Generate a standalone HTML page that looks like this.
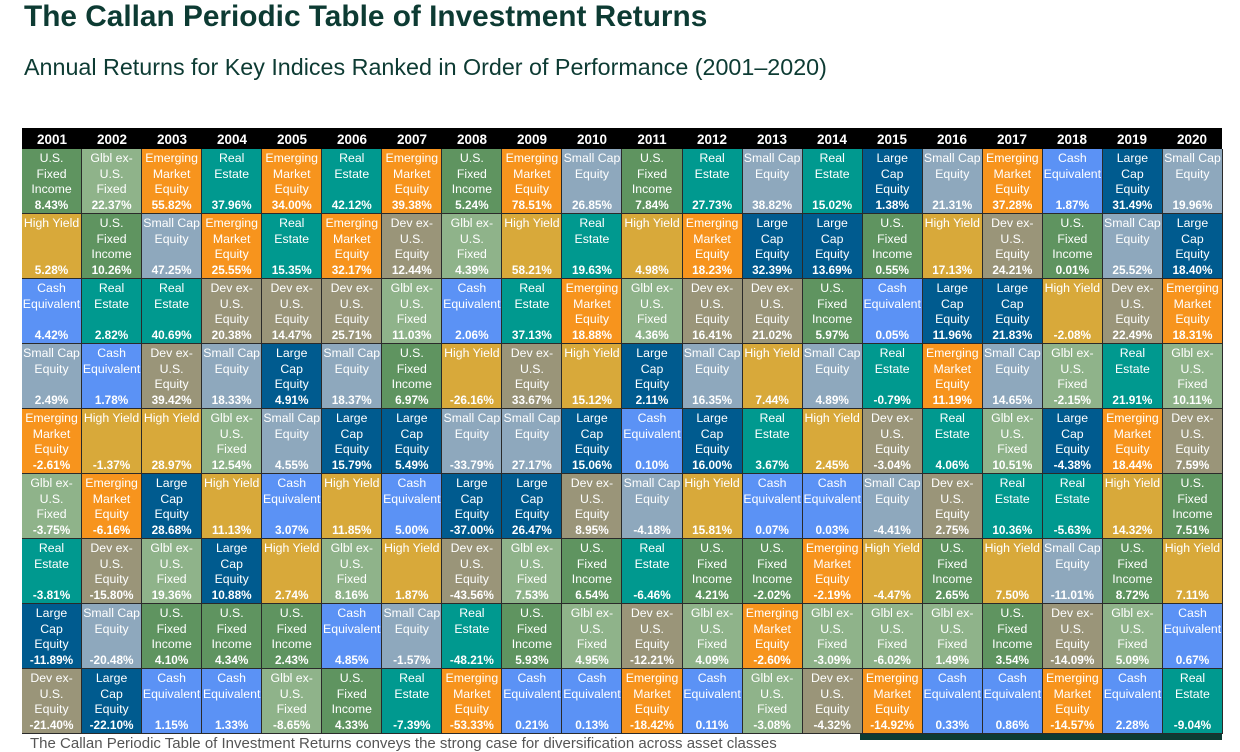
<!DOCTYPE html>
<html><head><meta charset="utf-8"><style>
body{margin:0;width:1240px;height:740px;overflow:hidden;background:#fff;font-family:"Liberation Sans",Arial,sans-serif;position:relative}
h1{position:absolute;left:24px;top:0;margin:0;font-size:29.8px;font-weight:bold;color:#0d3b33;line-height:34px;white-space:nowrap}
h2{position:absolute;left:24px;top:52px;margin:0;font-size:23.3px;font-weight:normal;color:#0d3b33;line-height:30px;white-space:nowrap}
.hd{position:absolute;left:22px;top:128px;width:1200px;height:21px;background:#000;display:grid;grid-template-columns:repeat(20,1fr)}
.hd div{color:#fff;font-weight:bold;font-size:13.5px;text-align:center;line-height:23px}
.g{position:absolute;left:22px;top:149px;width:1201px;height:585px;background:#2a2a2a;display:grid;grid-template-columns:repeat(20,1fr);grid-template-rows:repeat(9,1fr);grid-auto-flow:column;gap:1px;padding:0 1px 1px 0;box-sizing:border-box}
.g div{position:relative;color:#fff;text-align:center;overflow:hidden}
.g i{display:block;font-style:normal;font-size:12.3px;line-height:15.5px;padding-top:2px;white-space:nowrap}
.g b{position:absolute;left:0;right:0;bottom:1px;font-size:11.8px;line-height:14px}
.F{background:#5f9460}.G{background:#8fb38a}.E{background:#f7941d}.R{background:#00998f}.L{background:#005b8f}.S{background:#8ea8bd}.D{background:#9a9579}.C{background:#5b92f5}.H{background:#d8a93a}
.ft{position:absolute;left:30px;top:735px;font-size:15px;color:#555;white-space:nowrap}
.bar{position:absolute;left:860px;top:734px;width:362px;height:6px;background:#0d3b33}
</style></head><body>
<h1>The Callan Periodic Table of Investment Returns</h1>
<h2>Annual Returns for Key Indices Ranked in Order of Performance (2001–2020)</h2>
<div class="hd"><div>2001</div><div>2002</div><div>2003</div><div>2004</div><div>2005</div><div>2006</div><div>2007</div><div>2008</div><div>2009</div><div>2010</div><div>2011</div><div>2012</div><div>2013</div><div>2014</div><div>2015</div><div>2016</div><div>2017</div><div>2018</div><div>2019</div><div>2020</div></div>
<div class="g">
<div class="F"><i>U.S.<br>Fixed<br>Income</i><b>8.43%</b></div>
<div class="H"><i>High Yield</i><b>5.28%</b></div>
<div class="C"><i>Cash<br>Equivalent</i><b>4.42%</b></div>
<div class="S"><i>Small Cap<br>Equity</i><b>2.49%</b></div>
<div class="E"><i>Emerging<br>Market<br>Equity</i><b>-2.61%</b></div>
<div class="G"><i>Glbl ex-<br>U.S.<br>Fixed</i><b>-3.75%</b></div>
<div class="R"><i>Real<br>Estate</i><b>-3.81%</b></div>
<div class="L"><i>Large<br>Cap<br>Equity</i><b>-11.89%</b></div>
<div class="D"><i>Dev ex-<br>U.S.<br>Equity</i><b>-21.40%</b></div>
<div class="G"><i>Glbl ex-<br>U.S.<br>Fixed</i><b>22.37%</b></div>
<div class="F"><i>U.S.<br>Fixed<br>Income</i><b>10.26%</b></div>
<div class="R"><i>Real<br>Estate</i><b>2.82%</b></div>
<div class="C"><i>Cash<br>Equivalent</i><b>1.78%</b></div>
<div class="H"><i>High Yield</i><b>-1.37%</b></div>
<div class="E"><i>Emerging<br>Market<br>Equity</i><b>-6.16%</b></div>
<div class="D"><i>Dev ex-<br>U.S.<br>Equity</i><b>-15.80%</b></div>
<div class="S"><i>Small Cap<br>Equity</i><b>-20.48%</b></div>
<div class="L"><i>Large<br>Cap<br>Equity</i><b>-22.10%</b></div>
<div class="E"><i>Emerging<br>Market<br>Equity</i><b>55.82%</b></div>
<div class="S"><i>Small Cap<br>Equity</i><b>47.25%</b></div>
<div class="R"><i>Real<br>Estate</i><b>40.69%</b></div>
<div class="D"><i>Dev ex-<br>U.S.<br>Equity</i><b>39.42%</b></div>
<div class="H"><i>High Yield</i><b>28.97%</b></div>
<div class="L"><i>Large<br>Cap<br>Equity</i><b>28.68%</b></div>
<div class="G"><i>Glbl ex-<br>U.S.<br>Fixed</i><b>19.36%</b></div>
<div class="F"><i>U.S.<br>Fixed<br>Income</i><b>4.10%</b></div>
<div class="C"><i>Cash<br>Equivalent</i><b>1.15%</b></div>
<div class="R"><i>Real<br>Estate</i><b>37.96%</b></div>
<div class="E"><i>Emerging<br>Market<br>Equity</i><b>25.55%</b></div>
<div class="D"><i>Dev ex-<br>U.S.<br>Equity</i><b>20.38%</b></div>
<div class="S"><i>Small Cap<br>Equity</i><b>18.33%</b></div>
<div class="G"><i>Glbl ex-<br>U.S.<br>Fixed</i><b>12.54%</b></div>
<div class="H"><i>High Yield</i><b>11.13%</b></div>
<div class="L"><i>Large<br>Cap<br>Equity</i><b>10.88%</b></div>
<div class="F"><i>U.S.<br>Fixed<br>Income</i><b>4.34%</b></div>
<div class="C"><i>Cash<br>Equivalent</i><b>1.33%</b></div>
<div class="E"><i>Emerging<br>Market<br>Equity</i><b>34.00%</b></div>
<div class="R"><i>Real<br>Estate</i><b>15.35%</b></div>
<div class="D"><i>Dev ex-<br>U.S.<br>Equity</i><b>14.47%</b></div>
<div class="L"><i>Large<br>Cap<br>Equity</i><b>4.91%</b></div>
<div class="S"><i>Small Cap<br>Equity</i><b>4.55%</b></div>
<div class="C"><i>Cash<br>Equivalent</i><b>3.07%</b></div>
<div class="H"><i>High Yield</i><b>2.74%</b></div>
<div class="F"><i>U.S.<br>Fixed<br>Income</i><b>2.43%</b></div>
<div class="G"><i>Glbl ex-<br>U.S.<br>Fixed</i><b>-8.65%</b></div>
<div class="R"><i>Real<br>Estate</i><b>42.12%</b></div>
<div class="E"><i>Emerging<br>Market<br>Equity</i><b>32.17%</b></div>
<div class="D"><i>Dev ex-<br>U.S.<br>Equity</i><b>25.71%</b></div>
<div class="S"><i>Small Cap<br>Equity</i><b>18.37%</b></div>
<div class="L"><i>Large<br>Cap<br>Equity</i><b>15.79%</b></div>
<div class="H"><i>High Yield</i><b>11.85%</b></div>
<div class="G"><i>Glbl ex-<br>U.S.<br>Fixed</i><b>8.16%</b></div>
<div class="C"><i>Cash<br>Equivalent</i><b>4.85%</b></div>
<div class="F"><i>U.S.<br>Fixed<br>Income</i><b>4.33%</b></div>
<div class="E"><i>Emerging<br>Market<br>Equity</i><b>39.38%</b></div>
<div class="D"><i>Dev ex-<br>U.S.<br>Equity</i><b>12.44%</b></div>
<div class="G"><i>Glbl ex-<br>U.S.<br>Fixed</i><b>11.03%</b></div>
<div class="F"><i>U.S.<br>Fixed<br>Income</i><b>6.97%</b></div>
<div class="L"><i>Large<br>Cap<br>Equity</i><b>5.49%</b></div>
<div class="C"><i>Cash<br>Equivalent</i><b>5.00%</b></div>
<div class="H"><i>High Yield</i><b>1.87%</b></div>
<div class="S"><i>Small Cap<br>Equity</i><b>-1.57%</b></div>
<div class="R"><i>Real<br>Estate</i><b>-7.39%</b></div>
<div class="F"><i>U.S.<br>Fixed<br>Income</i><b>5.24%</b></div>
<div class="G"><i>Glbl ex-<br>U.S.<br>Fixed</i><b>4.39%</b></div>
<div class="C"><i>Cash<br>Equivalent</i><b>2.06%</b></div>
<div class="H"><i>High Yield</i><b>-26.16%</b></div>
<div class="S"><i>Small Cap<br>Equity</i><b>-33.79%</b></div>
<div class="L"><i>Large<br>Cap<br>Equity</i><b>-37.00%</b></div>
<div class="D"><i>Dev ex-<br>U.S.<br>Equity</i><b>-43.56%</b></div>
<div class="R"><i>Real<br>Estate</i><b>-48.21%</b></div>
<div class="E"><i>Emerging<br>Market<br>Equity</i><b>-53.33%</b></div>
<div class="E"><i>Emerging<br>Market<br>Equity</i><b>78.51%</b></div>
<div class="H"><i>High Yield</i><b>58.21%</b></div>
<div class="R"><i>Real<br>Estate</i><b>37.13%</b></div>
<div class="D"><i>Dev ex-<br>U.S.<br>Equity</i><b>33.67%</b></div>
<div class="S"><i>Small Cap<br>Equity</i><b>27.17%</b></div>
<div class="L"><i>Large<br>Cap<br>Equity</i><b>26.47%</b></div>
<div class="G"><i>Glbl ex-<br>U.S.<br>Fixed</i><b>7.53%</b></div>
<div class="F"><i>U.S.<br>Fixed<br>Income</i><b>5.93%</b></div>
<div class="C"><i>Cash<br>Equivalent</i><b>0.21%</b></div>
<div class="S"><i>Small Cap<br>Equity</i><b>26.85%</b></div>
<div class="R"><i>Real<br>Estate</i><b>19.63%</b></div>
<div class="E"><i>Emerging<br>Market<br>Equity</i><b>18.88%</b></div>
<div class="H"><i>High Yield</i><b>15.12%</b></div>
<div class="L"><i>Large<br>Cap<br>Equity</i><b>15.06%</b></div>
<div class="D"><i>Dev ex-<br>U.S.<br>Equity</i><b>8.95%</b></div>
<div class="F"><i>U.S.<br>Fixed<br>Income</i><b>6.54%</b></div>
<div class="G"><i>Glbl ex-<br>U.S.<br>Fixed</i><b>4.95%</b></div>
<div class="C"><i>Cash<br>Equivalent</i><b>0.13%</b></div>
<div class="F"><i>U.S.<br>Fixed<br>Income</i><b>7.84%</b></div>
<div class="H"><i>High Yield</i><b>4.98%</b></div>
<div class="G"><i>Glbl ex-<br>U.S.<br>Fixed</i><b>4.36%</b></div>
<div class="L"><i>Large<br>Cap<br>Equity</i><b>2.11%</b></div>
<div class="C"><i>Cash<br>Equivalent</i><b>0.10%</b></div>
<div class="S"><i>Small Cap<br>Equity</i><b>-4.18%</b></div>
<div class="R"><i>Real<br>Estate</i><b>-6.46%</b></div>
<div class="D"><i>Dev ex-<br>U.S.<br>Equity</i><b>-12.21%</b></div>
<div class="E"><i>Emerging<br>Market<br>Equity</i><b>-18.42%</b></div>
<div class="R"><i>Real<br>Estate</i><b>27.73%</b></div>
<div class="E"><i>Emerging<br>Market<br>Equity</i><b>18.23%</b></div>
<div class="D"><i>Dev ex-<br>U.S.<br>Equity</i><b>16.41%</b></div>
<div class="S"><i>Small Cap<br>Equity</i><b>16.35%</b></div>
<div class="L"><i>Large<br>Cap<br>Equity</i><b>16.00%</b></div>
<div class="H"><i>High Yield</i><b>15.81%</b></div>
<div class="F"><i>U.S.<br>Fixed<br>Income</i><b>4.21%</b></div>
<div class="G"><i>Glbl ex-<br>U.S.<br>Fixed</i><b>4.09%</b></div>
<div class="C"><i>Cash<br>Equivalent</i><b>0.11%</b></div>
<div class="S"><i>Small Cap<br>Equity</i><b>38.82%</b></div>
<div class="L"><i>Large<br>Cap<br>Equity</i><b>32.39%</b></div>
<div class="D"><i>Dev ex-<br>U.S.<br>Equity</i><b>21.02%</b></div>
<div class="H"><i>High Yield</i><b>7.44%</b></div>
<div class="R"><i>Real<br>Estate</i><b>3.67%</b></div>
<div class="C"><i>Cash<br>Equivalent</i><b>0.07%</b></div>
<div class="F"><i>U.S.<br>Fixed<br>Income</i><b>-2.02%</b></div>
<div class="E"><i>Emerging<br>Market<br>Equity</i><b>-2.60%</b></div>
<div class="G"><i>Glbl ex-<br>U.S.<br>Fixed</i><b>-3.08%</b></div>
<div class="R"><i>Real<br>Estate</i><b>15.02%</b></div>
<div class="L"><i>Large<br>Cap<br>Equity</i><b>13.69%</b></div>
<div class="F"><i>U.S.<br>Fixed<br>Income</i><b>5.97%</b></div>
<div class="S"><i>Small Cap<br>Equity</i><b>4.89%</b></div>
<div class="H"><i>High Yield</i><b>2.45%</b></div>
<div class="C"><i>Cash<br>Equivalent</i><b>0.03%</b></div>
<div class="E"><i>Emerging<br>Market<br>Equity</i><b>-2.19%</b></div>
<div class="G"><i>Glbl ex-<br>U.S.<br>Fixed</i><b>-3.09%</b></div>
<div class="D"><i>Dev ex-<br>U.S.<br>Equity</i><b>-4.32%</b></div>
<div class="L"><i>Large<br>Cap<br>Equity</i><b>1.38%</b></div>
<div class="F"><i>U.S.<br>Fixed<br>Income</i><b>0.55%</b></div>
<div class="C"><i>Cash<br>Equivalent</i><b>0.05%</b></div>
<div class="R"><i>Real<br>Estate</i><b>-0.79%</b></div>
<div class="D"><i>Dev ex-<br>U.S.<br>Equity</i><b>-3.04%</b></div>
<div class="S"><i>Small Cap<br>Equity</i><b>-4.41%</b></div>
<div class="H"><i>High Yield</i><b>-4.47%</b></div>
<div class="G"><i>Glbl ex-<br>U.S.<br>Fixed</i><b>-6.02%</b></div>
<div class="E"><i>Emerging<br>Market<br>Equity</i><b>-14.92%</b></div>
<div class="S"><i>Small Cap<br>Equity</i><b>21.31%</b></div>
<div class="H"><i>High Yield</i><b>17.13%</b></div>
<div class="L"><i>Large<br>Cap<br>Equity</i><b>11.96%</b></div>
<div class="E"><i>Emerging<br>Market<br>Equity</i><b>11.19%</b></div>
<div class="R"><i>Real<br>Estate</i><b>4.06%</b></div>
<div class="D"><i>Dev ex-<br>U.S.<br>Equity</i><b>2.75%</b></div>
<div class="F"><i>U.S.<br>Fixed<br>Income</i><b>2.65%</b></div>
<div class="G"><i>Glbl ex-<br>U.S.<br>Fixed</i><b>1.49%</b></div>
<div class="C"><i>Cash<br>Equivalent</i><b>0.33%</b></div>
<div class="E"><i>Emerging<br>Market<br>Equity</i><b>37.28%</b></div>
<div class="D"><i>Dev ex-<br>U.S.<br>Equity</i><b>24.21%</b></div>
<div class="L"><i>Large<br>Cap<br>Equity</i><b>21.83%</b></div>
<div class="S"><i>Small Cap<br>Equity</i><b>14.65%</b></div>
<div class="G"><i>Glbl ex-<br>U.S.<br>Fixed</i><b>10.51%</b></div>
<div class="R"><i>Real<br>Estate</i><b>10.36%</b></div>
<div class="H"><i>High Yield</i><b>7.50%</b></div>
<div class="F"><i>U.S.<br>Fixed<br>Income</i><b>3.54%</b></div>
<div class="C"><i>Cash<br>Equivalent</i><b>0.86%</b></div>
<div class="C"><i>Cash<br>Equivalent</i><b>1.87%</b></div>
<div class="F"><i>U.S.<br>Fixed<br>Income</i><b>0.01%</b></div>
<div class="H"><i>High Yield</i><b>-2.08%</b></div>
<div class="G"><i>Glbl ex-<br>U.S.<br>Fixed</i><b>-2.15%</b></div>
<div class="L"><i>Large<br>Cap<br>Equity</i><b>-4.38%</b></div>
<div class="R"><i>Real<br>Estate</i><b>-5.63%</b></div>
<div class="S"><i>Small Cap<br>Equity</i><b>-11.01%</b></div>
<div class="D"><i>Dev ex-<br>U.S.<br>Equity</i><b>-14.09%</b></div>
<div class="E"><i>Emerging<br>Market<br>Equity</i><b>-14.57%</b></div>
<div class="L"><i>Large<br>Cap<br>Equity</i><b>31.49%</b></div>
<div class="S"><i>Small Cap<br>Equity</i><b>25.52%</b></div>
<div class="D"><i>Dev ex-<br>U.S.<br>Equity</i><b>22.49%</b></div>
<div class="R"><i>Real<br>Estate</i><b>21.91%</b></div>
<div class="E"><i>Emerging<br>Market<br>Equity</i><b>18.44%</b></div>
<div class="H"><i>High Yield</i><b>14.32%</b></div>
<div class="F"><i>U.S.<br>Fixed<br>Income</i><b>8.72%</b></div>
<div class="G"><i>Glbl ex-<br>U.S.<br>Fixed</i><b>5.09%</b></div>
<div class="C"><i>Cash<br>Equivalent</i><b>2.28%</b></div>
<div class="S"><i>Small Cap<br>Equity</i><b>19.96%</b></div>
<div class="L"><i>Large<br>Cap<br>Equity</i><b>18.40%</b></div>
<div class="E"><i>Emerging<br>Market<br>Equity</i><b>18.31%</b></div>
<div class="G"><i>Glbl ex-<br>U.S.<br>Fixed</i><b>10.11%</b></div>
<div class="D"><i>Dev ex-<br>U.S.<br>Equity</i><b>7.59%</b></div>
<div class="F"><i>U.S.<br>Fixed<br>Income</i><b>7.51%</b></div>
<div class="H"><i>High Yield</i><b>7.11%</b></div>
<div class="C"><i>Cash<br>Equivalent</i><b>0.67%</b></div>
<div class="R"><i>Real<br>Estate</i><b>-9.04%</b></div>
</div>
<div class="ft">The Callan Periodic Table of Investment Returns conveys the strong case for diversification across asset classes</div>
<div class="bar"></div>
</body></html>
